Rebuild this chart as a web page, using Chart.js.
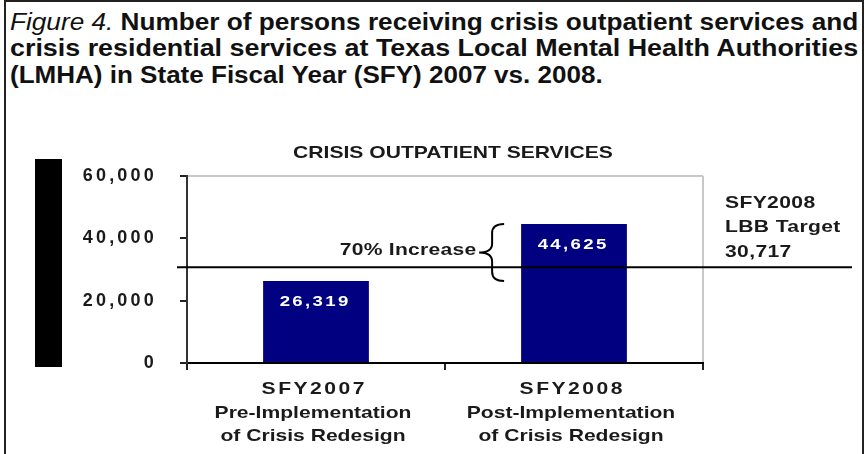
<!DOCTYPE html>
<html>
<head>
<meta charset="utf-8">
<script src="https://cdn.jsdelivr.net/npm/chart.js@4.4.1/dist/chart.umd.min.js"></script>
<style>
    html, body { margin: 0; padding: 0; background: #fff; }
    body { width: 865px; height: 454px; position: relative; overflow: hidden; }
    #frame { position: absolute; left: 4px; top: 0; width: 856px; height: 470px; border: 2px solid #222; }
    .cap {
        position: absolute; left: 10px; white-space: nowrap;
        font-family: "Liberation Sans", Arial, sans-serif;
        font-weight: bold; font-size: 23px; line-height: 26px; color: #111;
        transform-origin: 0 0;
    }
    .cap i { font-weight: normal; }
    #blackbar { position: absolute; left: 35px; top: 159px; width: 27px; height: 208px; background: #000; }
    #chart { position: absolute; left: 0; top: 0; }
</style>
</head>
<body>
<div id="frame"></div>
<div class="cap" style="top:9px" data-w="848"><i>Figure 4.</i> Number of persons receiving crisis outpatient services and</div>
<div class="cap" style="top:35px" data-w="848">crisis residential services at Texas Local Mental Health Authorities</div>
<div class="cap" style="top:62px" data-w="593">(LMHA) in State Fiscal Year (SFY) 2007 vs. 2008.</div>
<div id="blackbar"></div>
<canvas id="chart" width="865" height="454"></canvas>
<script>
const periods = ['SFY2007', 'SFY2008'];
const phases = ['Pre-Implementation', 'Post-Implementation'];
const phaseNote = 'of Crisis Redesign';
const personsServed = [26319, 44625];
const lbbTarget = 30717;
const targetLines = ['SFY2008', 'LBB Target', '30,717'];
const increaseText = '70% Increase';
const chartTitle = 'CRISIS OUTPATIENT SERVICES';
const yMin = 0, yMax = 60000, yStep = 20000;

const FONT = '"Liberation Sans", Arial, sans-serif';
const INK = '#1a1a1a';
const STRETCH = 1.24; // the source figure is stretched sideways

// squeeze caption lines to the widths of the original figure text
document.querySelectorAll('.cap').forEach(el => {
    const k = parseFloat(el.dataset.w) / el.offsetWidth;
    el.style.transform = 'scaleX(' + k + ')';
});

function wideText(ctx, text, x, y, size, spacing, align, color) {
    ctx.save();
    ctx.translate(x, y);
    ctx.scale(STRETCH, 1);
    ctx.font = 'bold ' + size + 'px ' + FONT;
    ctx.letterSpacing = spacing + 'px';
    ctx.fillStyle = color || INK;
    ctx.textBaseline = 'middle';
    ctx.textAlign = align;
    let dx = 0;
    if (align === 'center') dx = spacing / 2;
    if (align === 'right') dx = spacing;
    ctx.fillText(text, dx, 0);
    ctx.restore();
}

const decorPlugin = {
    id: 'decor',
    beforeDraw(chart) {
        chart.ctx.letterSpacing = '3.2px';
    },
    beforeDatasetsDraw(chart) {
        chart.ctx.letterSpacing = '0px';
    },
    afterDatasetsDraw(chart) {
        const ctx = chart.ctx;
        const area = chart.chartArea;
        const xs = chart.scales.x;
        const ys = chart.scales.y;
        const bars = chart.getDatasetMeta(0).data;

        // bar values
        bars.forEach((bar, i) => {
            wideText(ctx, personsServed[i].toLocaleString('en-US'), bar.x - 2, bar.y + 21, 15, 1.9, 'center', '#fff');
        });

        // target line
        const ty = ys.getPixelForValue(lbbTarget);
        ctx.save();
        ctx.strokeStyle = '#000';
        ctx.lineWidth = 2;
        ctx.beginPath();
        ctx.moveTo(area.left - 10, ty);
        ctx.lineTo(area.right + 149, ty);
        ctx.stroke();

        // brace between the two bars
        const yTop = ys.getPixelForValue(personsServed[1]);
        const yBot = ys.getPixelForValue(personsServed[0]);
        const ym = (yTop + yBot) / 2;
        const xr = bars[1].x - bars[1].width / 2 - 17;
        const xv = xr - 12;
        const xt = xv - 13;
        ctx.beginPath();
        ctx.moveTo(xr, yTop);
        ctx.quadraticCurveTo(xv, yTop, xv, yTop + 9);
        ctx.lineTo(xv, ym - 9);
        ctx.quadraticCurveTo(xv, ym, xt, ym);
        ctx.moveTo(xt, ym);
        ctx.quadraticCurveTo(xv, ym, xv, ym + 9);
        ctx.lineTo(xv, yBot - 9);
        ctx.quadraticCurveTo(xv, yBot, xr, yBot);
        ctx.stroke();
        ctx.restore();

        wideText(ctx, increaseText, xt - 3, ym - 2, 17, 0.2, 'right');

        // target labels
        targetLines.forEach((t, i) => {
            wideText(ctx, t, area.right + 22, ty - 64 + i * 24.5, 17, 0.3, 'left');
        });

        // chart title
        wideText(ctx, chartTitle, (area.left + area.right) / 2 + 8, area.top - 23, 17, 0, 'center');

        // category labels
        periods.forEach((p, i) => {
            const cx = xs.getPixelForValue(i) - 3;
            wideText(ctx, p, cx, area.bottom + 26, 17, 2.0, 'center');
            wideText(ctx, phases[i], cx, area.bottom + 50, 17, 0, 'center');
            wideText(ctx, phaseNote, cx, area.bottom + 73, 17, 0, 'center');
        });
    }
};

new Chart(document.getElementById('chart'), {
    type: 'bar',
    data: {
        labels: periods,
        datasets: [{
            data: personsServed,
            backgroundColor: '#000080',
            borderWidth: 0,
            barPercentage: 0.41,
            categoryPercentage: 1.0
        }]
    },
    options: {
        responsive: false,
        animation: false,
        devicePixelRatio: 1,
        layout: { padding: { top: 176, right: 162, left: 0, bottom: 0 } },
        plugins: {
            legend: { display: false },
            title: { display: false },
            tooltip: { enabled: false }
        },
        scales: {
            x: {
                afterFit: s => { s.height = 91; },
                ticks: { display: false },
                grid: {
                    color: c => c.type === 'tick' ? 'rgba(0,0,0,0)' : '#c8c8c8',
                    lineWidth: 2,
                    tickLength: 7,
                    tickColor: '#222'
                },
                border: { color: '#000', width: 2 }
            },
            y: {
                min: yMin,
                max: yMax,
                afterFit: s => { s.width = 187; },
                ticks: {
                    stepSize: yStep,
                    padding: 23,
                    color: INK,
                    font: { family: FONT, size: 18, weight: 'bold' }
                },
                grid: {
                    color: c => (c.tick && c.tick.value === yMax) ? '#c8c8c8' : 'rgba(0,0,0,0)',
                    lineWidth: 2,
                    tickLength: 7,
                    tickColor: '#222'
                },
                border: { color: '#333', width: 2 }
            }
        }
    },
    plugins: [decorPlugin]
});
</script>
</body>
</html>
